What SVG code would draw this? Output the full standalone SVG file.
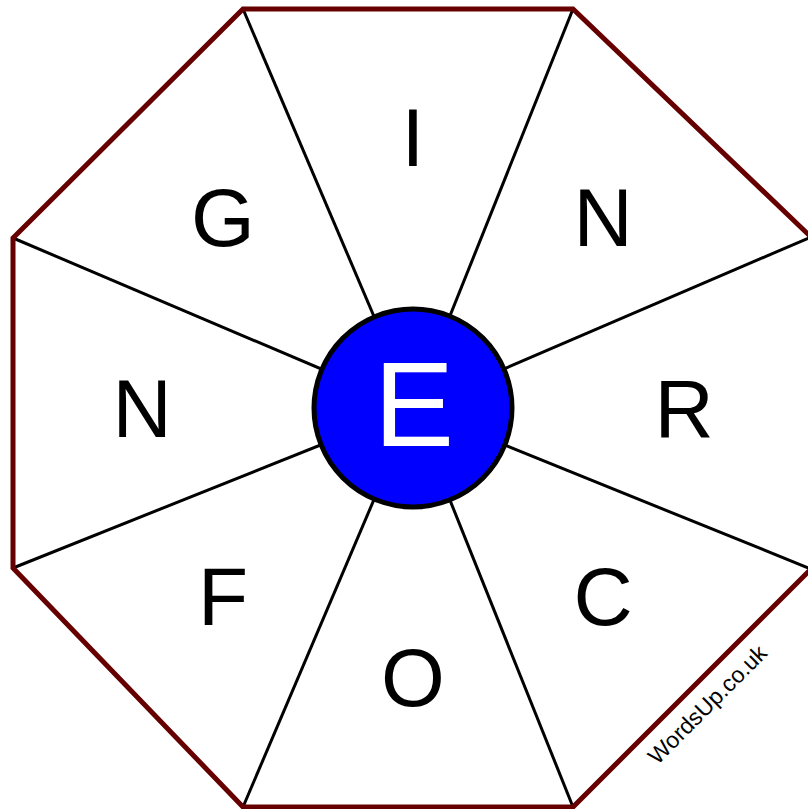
<svg xmlns="http://www.w3.org/2000/svg" width="808" height="809" viewBox="0 0 808 809">
<style>
.spoke{stroke:#000;stroke-width:3;fill:none}
.letter{font-family:"Liberation Sans",Arial,sans-serif;font-size:82px;fill:#000;text-anchor:middle}
</style>
<rect width="808" height="809" fill="#fff"/>
<g id="connectors">
<line class="spoke" x1="243" y1="9" x2="413" y2="408"/>
<line class="spoke" x1="573" y1="9" x2="413" y2="408"/>
<line class="spoke" x1="811" y1="237" x2="413" y2="408"/>
<line class="spoke" x1="811" y1="569" x2="413" y2="408"/>
<line class="spoke" x1="573" y1="807" x2="413" y2="408"/>
<line class="spoke" x1="243" y1="807" x2="413" y2="408"/>
<line class="spoke" x1="13" y1="568" x2="413" y2="408"/>
<line class="spoke" x1="13" y1="238" x2="413" y2="408"/>
</g>
<g id="octagon">
<polygon points="243,9 573,9 811,237 811,569 573,807 243,807 13,568 13,238" fill="none" stroke="#660000" stroke-width="5" stroke-linejoin="miter"/>
</g>
<g id="letter-I"><text class="letter" x="413" y="166">I</text></g>
<g id="letter-N1"><text class="letter" x="603" y="246">N</text></g>
<g id="letter-R"><text class="letter" x="684" y="437">R</text></g>
<g id="letter-C"><text class="letter" x="603" y="625">C</text></g>
<g id="letter-O"><text class="letter" x="413" y="706">O</text></g>
<g id="letter-F"><text class="letter" x="223" y="625">F</text></g>
<g id="letter-N2"><text class="letter" x="142" y="437">N</text></g>
<g id="letter-G"><text class="letter" x="223" y="246">G</text></g>
<g id="center">
<circle cx="413" cy="408" r="99" fill="#0000ff" stroke="#000" stroke-width="5"/>
<text x="414" y="446" font-family="'Liberation Sans',Arial,sans-serif" font-size="120" fill="#fff" text-anchor="middle">E</text>
</g>
<g id="watermark">
<text x="713" y="710" font-family="'Liberation Sans',Arial,sans-serif" font-size="23" fill="#000" text-anchor="middle" transform="rotate(-45 713 710)">WordsUp.co.uk</text>
</g>
</svg>
